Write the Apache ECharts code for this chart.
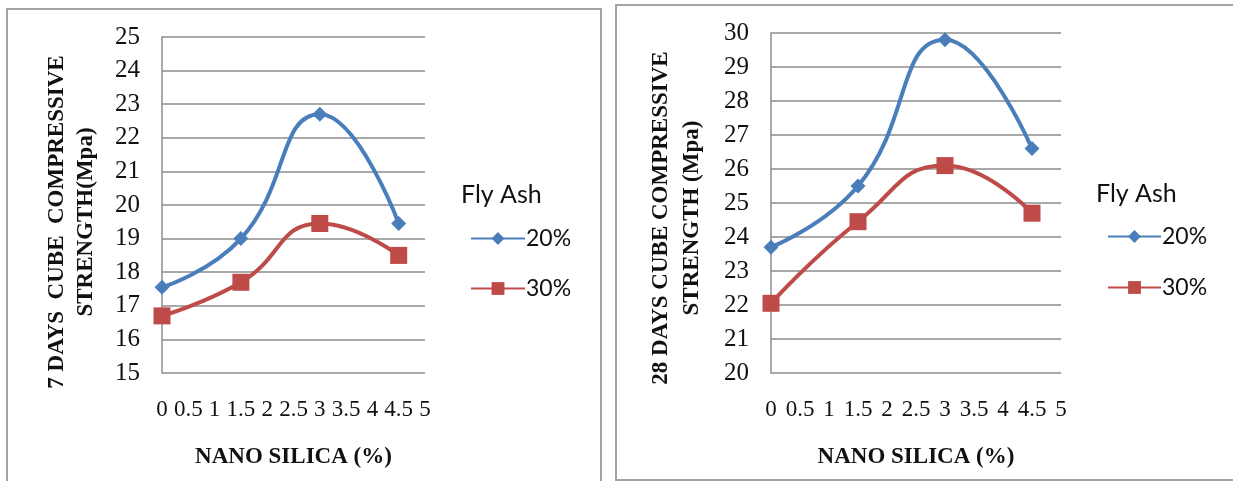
<!DOCTYPE html>
<html>
<head>
<meta charset="utf-8">
<script src="https://cdn.jsdelivr.net/npm/echarts@6/dist/echarts.min.js"></script>
<style>
html,body{margin:0;padding:0;background:#fff;}
#c{width:1233px;height:481px;}
</style>
</head>
<body>
<div id="c"></div>
<script>
// Data
const nanoSilica = [0, 1.5, 3, 4.5];
const seriesNames = ['20%', '30%'];
const days7_fa20 = [17.55, 19.0, 22.7, 19.45];
const days7_fa30 = [16.7, 17.7, 19.45, 18.5];
const days28_fa20 = [23.7, 25.5, 29.8, 26.6];
const days28_fa30 = [22.05, 24.45, 26.1, 24.7];
const y7Range = [15, 25];
const y28Range = [20, 30];
const xRange = [0, 5];
const legendTitle = 'Fly Ash';
const xTitle = 'NANO SILICA (%)';
const y7Title = '7 DAYS  CUBE  COMPRESSIVE\nSTRENGTH(Mpa)';
const y28Title = '28 DAYS CUBE COMPRESSIVE\nSTRENGTH (Mpa)';

const BLUE = '#4A7EBB';
const RED = '#BE4B48';
const GRID = '#8c8c8c';
const TEXT = '#111';
const SERIF = '"Liberation Serif", "Times New Roman", serif';
const SANS = 'Lato, "Liberation Sans", sans-serif';

const pairs = (xs, ys) => xs.map((x, i) => [x, ys[i]]);

function xAxisCfg(gridIndex) {
  return {
    type: 'value', gridIndex, min: xRange[0], max: xRange[1], interval: 0.5,
    axisLine: {show: false}, axisTick: {show: false}, splitLine: {show: false},
    axisLabel: {color: TEXT, fontFamily: SERIF, fontSize: 23, margin: 25},
    name: xTitle, nameLocation: 'middle', nameGap: 73,
    nameTextStyle: {color: TEXT, fontFamily: SERIF, fontWeight: 'bold', fontSize: 23}
  };
}
function yAxisCfg(gridIndex, range) {
  return {
    type: 'value', gridIndex, min: range[0], max: range[1], interval: 1,
    axisLine: {show: true, lineStyle: {color: GRID, width: 1.5}},
    axisTick: {show: false},
    splitLine: {show: true, lineStyle: {color: GRID, width: 1.5}},
    axisLabel: {color: TEXT, fontFamily: SERIF, fontSize: 25, margin: 22}
  };
}
function lineSeries(name, data, xi, color, symbol, size) {
  return {
    type: 'line', name, xAxisIndex: xi, yAxisIndex: xi, data,
    smooth: 0.5, symbol, symbolSize: size,
    lineStyle: {color, width: 4}, itemStyle: {color},
    emphasis: {disabled: true}
  };
}

const chart = echarts.init(document.getElementById('c'), null, {renderer: 'canvas'});
chart.setOption({
  animation: false,
  backgroundColor: '#fff',
  grid: [
    {left: 162, top: 37, width: 263, height: 336},
    {left: 771, top: 33, width: 290, height: 340}
  ],
  xAxis: [xAxisCfg(0), xAxisCfg(1)],
  yAxis: [yAxisCfg(0, y7Range), yAxisCfg(1, y28Range)],
  title: [
    {text: legendTitle, left: 461, top: 182, padding: 0,
     textStyle: {fontFamily: SANS, fontWeight: 'normal', fontSize: 25, color: TEXT}},
    {text: legendTitle, left: 1096, top: 181, padding: 0,
     textStyle: {fontFamily: SANS, fontWeight: 'normal', fontSize: 25, color: TEXT}}
  ],
  legend: [
    {orient: 'vertical', left: 470, top: 227, itemWidth: 54, itemHeight: 16, itemGap: 27,
     padding: 0, data: seriesNames,
     textStyle: {fontFamily: SANS, fontSize: 23, color: TEXT, padding: [0,0,0,-4]}},
    {orient: 'vertical', left: 1107, top: 225, itemWidth: 53, itemHeight: 16, itemGap: 28,
     padding: 0, data: seriesNames,
     textStyle: {fontFamily: SANS, fontSize: 23, color: TEXT, padding: [0,0,0,-4]}}
  ],
  series: [
    lineSeries(seriesNames[0], pairs(nanoSilica, days7_fa20), 0, BLUE, 'diamond', 15),
    lineSeries(seriesNames[1], pairs(nanoSilica, days7_fa30), 0, RED, 'rect', 17),
    lineSeries(seriesNames[0], pairs(nanoSilica, days28_fa20), 1, BLUE, 'diamond', 15),
    lineSeries(seriesNames[1], pairs(nanoSilica, days28_fa30), 1, RED, 'rect', 17)
  ],
  graphic: [
    {type: 'rect', shape: {x: 7, y: 9, width: 594, height: 490}, silent: true,
     style: {fill: null, stroke: '#a3a3a3', lineWidth: 2}},
    {type: 'rect', shape: {x: 616, y: 5, width: 640, height: 475}, silent: true,
     style: {fill: null, stroke: '#a3a3a3', lineWidth: 2}},
    {type: 'text', x: 72, y: 222, rotation: Math.PI / 2, silent: true,
     style: {text: y7Title, align: 'center', verticalAlign: 'middle', lineHeight: 29,
             font: 'bold 23px ' + SERIF, fill: TEXT}},
    {type: 'text', x: 677, y: 218, rotation: Math.PI / 2, silent: true,
     style: {text: y28Title, align: 'center', verticalAlign: 'middle', lineHeight: 31,
             font: 'bold 23px ' + SERIF, fill: TEXT}}
  ]
});
</script>
</body>
</html>
